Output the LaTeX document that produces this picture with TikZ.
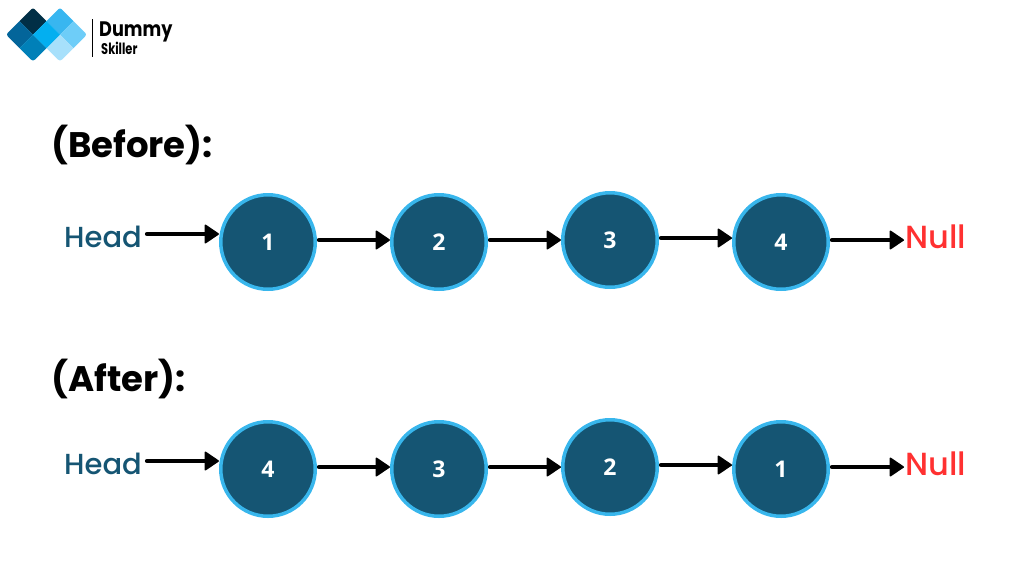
\documentclass[tikz,border=0pt]{standalone}
\usepackage{fontspec}
\setmainfont{Poppins}
\newfontfamily\labelfont[UprightFont=* Medium]{Poppins}
\newfontfamily\brandfont[FakeStretch=0.84]{Poppins}
\newfontfamily\subbrandfont[FakeStretch=0.74]{Poppins}
\newfontfamily\numfont{Open Sans}
\usetikzlibrary{arrows.meta}
\definecolor{nodefill}{HTML}{155573}
\definecolor{noderim}{HTML}{38B6EC}
\definecolor{nullred}{HTML}{FF3131}
\definecolor{tileNavy}{HTML}{012F46}
\definecolor{tileDeep}{HTML}{03659A}
\definecolor{tileMid}{HTML}{0080B8}
\definecolor{tileBright}{HTML}{03AFF0}
\definecolor{tileSky}{HTML}{38B6F0}
\definecolor{tileLight}{HTML}{6ECDF8}
\definecolor{tilePale}{HTML}{A7E0FB}
\tikzset{
  x=1pt,y=-1pt,
  listnode/.style={circle,draw=noderim,fill=nodefill,line width=3.5pt,minimum size=94.5pt,inner sep=0pt,
    text=white,font=\numfont\fontsize{23}{23}\selectfont\bfseries},
  link/.style={line width=4.2pt,line cap=round,shorten <=2pt,-{Triangle[length=15pt,width=20pt,round,line width=1.5pt]}},
  heading/.style={anchor=west,inner sep=0pt,font=\fontsize{35.5}{35.5}\selectfont\bfseries},
  headlabel/.style={anchor=center,inner sep=0pt,text=nodefill,font=\labelfont\fontsize{29}{29}\selectfont},
  nulllabel/.style={anchor=center,inner sep=0pt,text=nullred,font=\labelfont\fontsize{32}{32}\selectfont},
  corner/.style={rounded corners=2.5pt}
}
\begin{document}
\begin{tikzpicture}
\useasboundingbox (0,0) rectangle (1024,576);
% logo: two overlapping diamonds split into tiles
\fill[tileNavy] (19.5,21) [corner] -- (33,7.5) [sharp corners] -- (46.5,21) -- (33,34.5) -- cycle;
\fill[tileDeep] (19.5,48) [corner] -- (6,34.5) [sharp corners] -- (19.5,21) -- (33,34.5) -- cycle;
\fill[tileMid] (19.5,48) [corner] -- (33,61.5) [sharp corners] -- (46.5,48) -- (33,34.5) -- cycle;
\fill[tileSky] (46.5,21) [corner] -- (60,7.5) [sharp corners] -- (73.5,21) -- (60,34.5) -- cycle;
\fill[tileLight] (73.5,48) [corner] -- (87,34.5) [sharp corners] -- (73.5,21) -- (60,34.5) -- cycle;
\fill[tilePale] (46.5,48) [corner] -- (60,61.5) [sharp corners] -- (73.5,48) -- (60,34.5) -- cycle;
\fill[tileBright] (46.5,21) -- (60,34.5) -- (46.5,48) -- (33,34.5) -- cycle;
\draw[line width=0.9pt] (92,19) -- (92,57);
\node[anchor=west,inner sep=0pt,font=\brandfont\fontsize{21}{21}\selectfont\bfseries] (brand) at (99,32) {Dummy};
\node[anchor=west,inner sep=0pt,font=\subbrandfont\fontsize{15.5}{15.5}\selectfont\bfseries] (sub) at (101,48.5) {Skiller};
% section headings
\node[heading] (before) at (51,145) {(Before):};
\node[heading] (after) at (51,379) {(After):};
% first list
\node[headlabel] (h1) at (103,237) {Head};
\node[listnode] (a1) at (268,242) {1};
\node[listnode] (a2) at (439,242) {2};
\node[listnode] (a3) at (610,240) {3};
\node[listnode] (a4) at (781,242) {4};
\node[nulllabel] (n1) at (936,237) {Null};
% levels the links run along
\coordinate (r1) at (147,234);
\coordinate (r2) at (0,240);
\coordinate (r3) at (0,238);
\coordinate (n1i) at (904,240);
\draw[link,shorten <=0pt] (r1) -- (a1.west |- r1);
\draw[link] (a1.east |- r2) -- (a2.west |- r2);
\draw[link] (a2.east |- r2) -- (a3.west |- r2);
\draw[link] (a3.east |- r3) -- (a4.west |- r3);
\draw[link] (a4.east |- r2) -- (n1i);
% second list
\node[headlabel] (h2) at (103,464) {Head};
\node[listnode] (b1) at (268,469) {4};
\node[listnode] (b2) at (439,469) {3};
\node[listnode] (b3) at (610,467) {2};
\node[listnode] (b4) at (781,469) {1};
\node[nulllabel] (n2) at (936,464) {Null};
\coordinate (s1) at (147,461);
\coordinate (s2) at (0,467);
\coordinate (s3) at (0,465);
\coordinate (n2i) at (904,467);
\draw[link,shorten <=0pt] (s1) -- (b1.west |- s1);
\draw[link] (b1.east |- s2) -- (b2.west |- s2);
\draw[link] (b2.east |- s2) -- (b3.west |- s2);
\draw[link] (b3.east |- s3) -- (b4.west |- s3);
\draw[link] (b4.east |- s2) -- (n2i);
\end{tikzpicture}
\end{document}
